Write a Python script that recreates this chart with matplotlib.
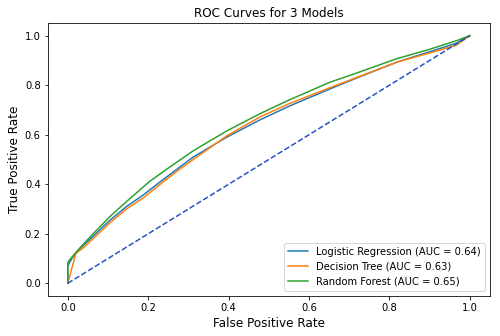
import matplotlib
matplotlib.use("Agg")
import matplotlib.pyplot as plt

# ROC points
lr_fpr = [0, 0, 0.01, 0.03, 0.063, 0.105, 0.146, 0.188, 0.23, 0.271, 0.312, 0.395, 0.478, 0.55, 0.652, 0.72, 0.818, 0.9, 0.967, 1.0]
lr_tpr = [0, 0.07, 0.1, 0.14, 0.19, 0.255, 0.31, 0.357, 0.41, 0.46, 0.51, 0.59, 0.66, 0.715, 0.785, 0.83, 0.893, 0.935, 0.97, 1.0]

dt_fpr = [0, 0.02, 0.04, 0.063, 0.105, 0.146, 0.188, 0.23, 0.271, 0.312, 0.395, 0.478, 0.55, 0.652, 0.72, 0.818, 0.9, 0.967, 1.0]
dt_tpr = [0, 0.121, 0.145, 0.18, 0.245, 0.3, 0.345, 0.4, 0.452, 0.5, 0.595, 0.672, 0.725, 0.79, 0.832, 0.893, 0.93, 0.962, 1.0]

rf_fpr = [0, 0, 0.018, 0.04, 0.063, 0.08, 0.105, 0.146, 0.204, 0.254, 0.312, 0.395, 0.478, 0.55, 0.652, 0.72, 0.818, 0.9, 0.967, 1.0]
rf_tpr = [0, 0.085, 0.121, 0.16, 0.2, 0.228, 0.27, 0.33, 0.412, 0.47, 0.535, 0.615, 0.685, 0.74, 0.812, 0.85, 0.907, 0.945, 0.98, 1.0]

model_names = ["Logistic Regression", "Decision Tree", "Random Forest"]
auc_values = [0.64, 0.63, 0.65]

fig = plt.figure(figsize=(500 / 72, 336 / 72), dpi=72)
ax = fig.add_axes([0.0954, 0.12, 0.8846, 0.8107])

curves = [(lr_fpr, lr_tpr), (dt_fpr, dt_tpr), (rf_fpr, rf_tpr)]
for (fpr, tpr), name, auc in zip(curves, model_names, auc_values):
	ax.plot(fpr, tpr, label="%s (AUC = %.2f)" % (name, auc))

# chance line
ax.plot([0, 1], [0, 1], linestyle="--", color="#2651c4")

ax.set_title("ROC Curves for 3 Models", fontsize=12)
ax.set_xlabel("False Positive Rate", fontsize=12)
ax.set_ylabel("True Positive Rate", fontsize=12)
ax.legend(loc="lower right", fontsize=10)

fig.savefig("out.png", dpi=72)
